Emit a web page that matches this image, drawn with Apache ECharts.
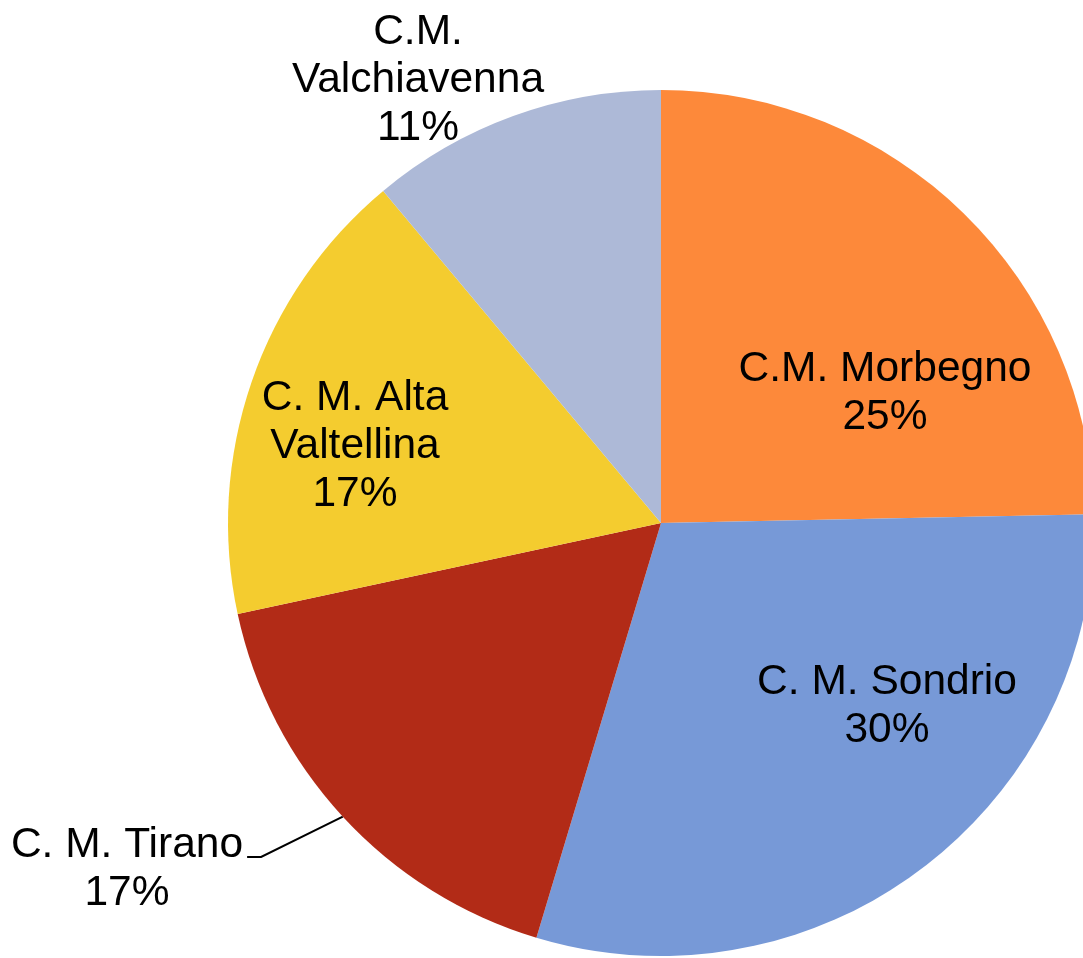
<!DOCTYPE html>
<html>
<head>
<meta charset="utf-8">
<script src="https://cdn.jsdelivr.net/npm/echarts@6/dist/echarts.min.js"></script>
<style>
  html, body { margin: 0; padding: 0; background: #fff; }
  #chart { width: 1083px; height: 958px; }
</style>
</head>
<body>
<div id="chart"></div>
<script>
const names = ['C.M. Morbegno', 'C. M. Sondrio', 'C. M. Tirano', 'C. M. Alta\nValtellina', 'C.M.\nValchiavenna'];
const values = [24.7, 30.0, 17.0, 17.3, 11.1];
const colors = ['#FD893A', '#7799D7', '#B22B17', '#F4CC2F', '#ADB9D7'];
// label centres (text placement only)
const labelPos = [[885, 393], [887, 706], [127, 869], [355, 446], [418, 80]];
const outside = [false, false, true, false, true];

const chart = echarts.init(document.getElementById('chart'));

const option = {
  animation: false,
  series: [{
    type: 'pie',
    center: [661, 523],
    radius: 433,
    startAngle: 90,
    clockwise: true,
    avoidLabelOverlap: false,
    percentPrecision: 0,
    label: {
      show: true,
      position: 'inside',
      formatter: '{b}\n{d}%',
      color: '#000',
      fontFamily: 'Liberation Sans, Arial, sans-serif',
      fontSize: 42.5,
      lineHeight: 48,
      align: 'center'
    },
    labelLine: { show: false },
    data: names.map((n, i) => ({
      name: n,
      value: values[i],
      itemStyle: { color: colors[i] },
      label: { position: outside[i] ? 'outside' : 'inside' },
      labelLine: { show: i === 2, lineStyle: { color: '#000', width: 2 } }
    })),
    labelLayout: function (params) {
      const p = labelPos[params.dataIndex];
      const res = { x: p[0], y: p[1], align: 'center', verticalAlign: 'middle' };
      if (params.dataIndex === 2 && params.labelLinePoints) {
        const start = params.labelLinePoints[0];
        const w = params.labelRect.width;
        const right = p[0] + w / 2 + 4;
        const lineY = p[1] - 48 + 36;
        res.labelLinePoints = [start, [right + 14, lineY], [right, lineY]];
      }
      return res;
    }
  }]
};

chart.setOption(option);
</script>
</body>
</html>
